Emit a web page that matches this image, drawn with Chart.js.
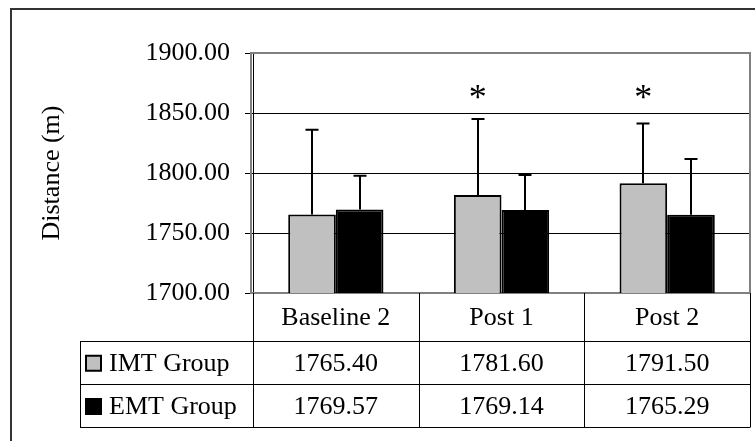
<!DOCTYPE html>
<html>
<head>
<meta charset="utf-8">
<script src="https://cdn.jsdelivr.net/npm/chart.js@4/dist/chart.umd.min.js"></script>
<style>
  html, body { margin: 0; padding: 0; background: #ffffff; }
  #wrap { width: 755px; height: 441px; }
</style>
</head>
<body>
<div id="wrap"><canvas id="chart" width="755" height="441"></canvas></div>
<script>
// Distance covered per test session, mean with upward SD whiskers
const categories = ['Baseline 2', 'Post 1', 'Post 2'];
const seriesNames = ['IMT Group', 'EMT Group'];
const imtMeans = [1765.40, 1781.60, 1791.50];
const emtMeans = [1769.57, 1769.14, 1765.29];
const imtSD = [70.7, 63.4, 49.8];
const emtSD = [28.2, 29.2, 46.4];
const imtSignificant = [false, true, true];
const yTicks = [1700, 1750, 1800, 1850, 1900];

const SERIF = '"Liberation Serif", "Times New Roman", serif';
const FONT_PX = 26;
const IMT_FILL = '#C0C0C0';
const EMT_FILL = '#000000';
const STAR_LEVEL = 1867.2;   // height of the significance marker on the distance scale

// White page, outer frame and grey plot-area border
const framePlugin = {
  id: 'frame',
  beforeDraw(chart) {
    const { ctx } = chart;
    ctx.save();
    ctx.fillStyle = '#ffffff';
    ctx.fillRect(0, 0, chart.width, chart.height);
    ctx.strokeStyle = '#333333';
    ctx.lineWidth = 2;
    ctx.beginPath();
    ctx.moveTo(11, chart.height + 5);
    ctx.lineTo(11, 9);
    ctx.lineTo(chart.width + 5, 9);
    ctx.stroke();
    ctx.restore();
  },
  beforeDatasetsDraw(chart) {
    const { ctx, chartArea: a } = chart;
    ctx.save();
    ctx.strokeStyle = '#808080';
    ctx.lineWidth = 2;
    ctx.strokeRect(a.left - 2, a.top, a.right - a.left + 2, a.bottom - a.top);
    ctx.restore();
  }
};

// SD whiskers above each bar and the asterisks over significant IMT bars
const whiskerPlugin = {
  id: 'whiskers',
  afterDatasetsDraw(chart) {
    const { ctx } = chart;
    const y = chart.scales.y;
    const sds = [imtSD, emtSD];
    const means = [imtMeans, emtMeans];
    ctx.save();
    ctx.strokeStyle = '#000000';
    ctx.lineWidth = 2;
    chart.data.datasets.forEach((ds, d) => {
      const meta = chart.getDatasetMeta(d);
      meta.data.forEach((bar, i) => {
        const x = Math.round(bar.x);
        const y0 = y.getPixelForValue(means[d][i]);
        const y1 = y.getPixelForValue(means[d][i] + sds[d][i]);
        ctx.beginPath();
        ctx.moveTo(x, y0);
        ctx.lineTo(x, y1);
        ctx.moveTo(x - 6.5, y1);
        ctx.lineTo(x + 6.5, y1);
        ctx.stroke();
      });
    });
    ctx.fillStyle = '#000000';
    ctx.font = '36px ' + SERIF;
    ctx.textAlign = 'center';
    ctx.textBaseline = 'alphabetic';
    const m = ctx.measureText('*');
    const off = (m.actualBoundingBoxAscent - m.actualBoundingBoxDescent) / 2;
    const imtMeta = chart.getDatasetMeta(0);
    imtSignificant.forEach((sig, i) => {
      if (!sig) return;
      const bx = imtMeta.data[i].x;
      ctx.fillText('*', bx, y.getPixelForValue(STAR_LEVEL) + off);
    });
    ctx.restore();
  }
};

// Data table under the plot: category header, legend keys and values
const tablePlugin = {
  id: 'dataTable',
  afterDraw(chart) {
    const { ctx, chartArea: a } = chart;
    const xs = chart.scales.x;
    const colW = (a.right - a.left) / categories.length;
    const tableLeft = 80;
    const rows = [a.bottom, a.bottom + 47.5, a.bottom + 91, a.bottom + 134];
    const cap = FONT_PX * 0.33;
    ctx.save();
    ctx.strokeStyle = '#000000';
    ctx.lineWidth = 1;
    ctx.beginPath();
    for (let r = 1; r < rows.length; r++) {
      ctx.moveTo(tableLeft, Math.round(rows[r]) + 0.5);
      ctx.lineTo(a.right, Math.round(rows[r]) + 0.5);
    }
    ctx.moveTo(tableLeft + 0.5, Math.round(rows[1]) + 0.5);
    ctx.lineTo(tableLeft + 0.5, Math.round(rows[3]) + 0.5);
    for (let c = 0; c <= categories.length; c++) {
      const cx = Math.round(a.left + c * colW) + 0.5;
      ctx.moveTo(cx, a.bottom);
      ctx.lineTo(cx, Math.round(rows[3]) + 0.5);
    }
    ctx.stroke();

    ctx.fillStyle = '#000000';
    ctx.font = FONT_PX + 'px ' + SERIF;
    ctx.textAlign = 'center';
    ctx.textBaseline = 'alphabetic';
    const mid = r => (rows[r] + rows[r + 1]) / 2;
    categories.forEach((c, i) => {
      ctx.fillText(c, xs.getPixelForValue(i), mid(0) + cap);
    });
    const values = [imtMeans, emtMeans];
    const fills = [IMT_FILL, EMT_FILL];
    seriesNames.forEach((name, s) => {
      const cy = mid(s + 1);
      values[s].forEach((v, i) => {
        ctx.fillText(v.toFixed(2), xs.getPixelForValue(i), cy + cap);
      });
      ctx.fillStyle = fills[s];
      ctx.fillRect(86, cy - 6.5, 15, 15);
      ctx.strokeStyle = '#000000';
      ctx.lineWidth = 2;
      ctx.strokeRect(86, cy - 6.5, 15, 15);
      ctx.fillStyle = '#000000';
      ctx.textAlign = 'left';
      ctx.fillText(name, 109, cy + cap);
      ctx.textAlign = 'center';
    });
    ctx.restore();
  }
};

new Chart(document.getElementById('chart'), {
  type: 'bar',
  data: {
    labels: categories,
    datasets: [
      { label: seriesNames[0], data: imtMeans, backgroundColor: IMT_FILL,
        borderColor: '#000000', borderWidth: 2 },
      { label: seriesNames[1], data: emtMeans, backgroundColor: EMT_FILL,
        borderColor: '#000000', borderWidth: 2 }
    ]
  },
  options: {
    responsive: false,
    animation: false,
    devicePixelRatio: 1,
    categoryPercentage: 0.575,
    barPercentage: 1,
    layout: { padding: { left: 0, top: 53, right: 5, bottom: 148 } },
    plugins: {
      legend: { display: false },
      tooltip: { enabled: false }
    },
    scales: {
      x: { display: false },
      y: {
        min: yTicks[0],
        max: yTicks[yTicks.length - 1],
        afterBuildTicks(scale) { scale.ticks = yTicks.map(v => ({ value: v })); },
        afterFit(scale) { scale.width = 253; },
        ticks: {
          color: '#000000',
          padding: 15,
          font: { family: SERIF, size: FONT_PX },
          callback: v => Number(v).toFixed(2)
        },
        grid: {
          color: ctx => (ctx.tick && ctx.tick.value === 1900) ? 'rgba(0,0,0,0)' : '#000000',
          tickColor: '#000000',
          tickLength: 8,
          lineWidth: 1
        },
        border: { display: true, color: '#000000', width: 1 },
        title: {
          display: true,
          text: 'Distance (m)',
          color: '#000000',
          font: { family: SERIF, size: FONT_PX },
          padding: { top: 37, bottom: 0 }
        }
      }
    }
  },
  plugins: [framePlugin, whiskerPlugin, tablePlugin]
});
</script>
</body>
</html>
